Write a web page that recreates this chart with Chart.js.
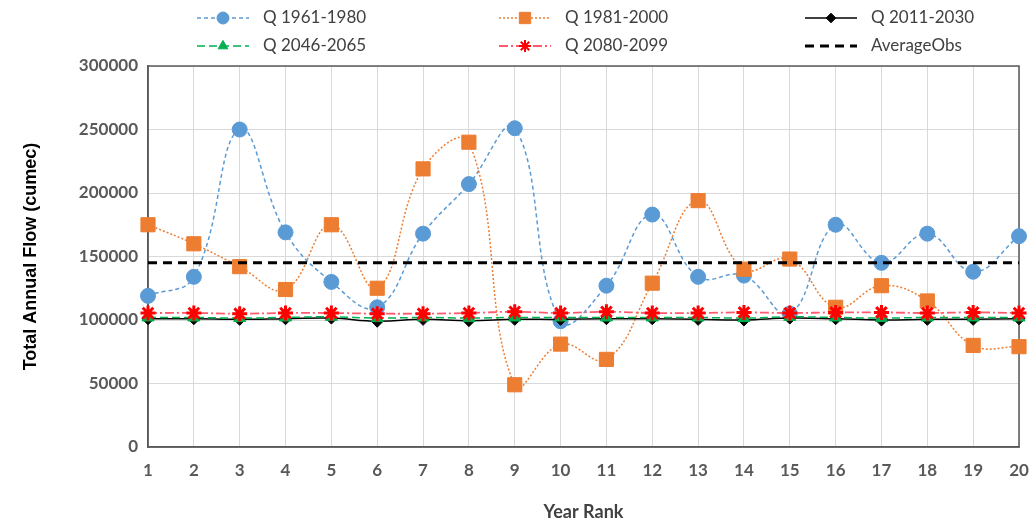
<!DOCTYPE html>
<html>
<head>
<meta charset="utf-8">
<script src="https://cdn.jsdelivr.net/npm/chart.js@4.4.0/dist/chart.umd.min.js"></script>
<style>
  html, body { margin: 0; padding: 0; background: #fff; }
  #wrap { width: 1030px; height: 523px; position: relative; }
</style>
</head>
<body>
<div id="wrap"><canvas id="flowChart"></canvas></div>
<script>
// Data
const yearRank = ['1','2','3','4','5','6','7','8','9','10','11','12','13','14','15','16','17','18','19','20'];
const q1961 = [119000, 134000, 250000, 169000, 130000, 110000, 168000, 207000, 251000, 99000,
               127000, 183000, 134000, 135000, 105000, 175000, 145000, 168000, 138000, 166000];
const q1981 = [175000, 160000, 142000, 124000, 175000, 125000, 219000, 240000, 49000, 81000,
               69000, 129000, 194000, 140000, 148000, 110000, 127000, 115000, 80000, 79000];
const q2011 = [101000, 101000, 100500, 101000, 101500, 99000, 100500, 99500, 100500, 100500,
               101000, 101000, 100500, 100000, 101500, 101000, 100000, 100500, 100500, 101000];
const q2046 = [102000, 102000, 101500, 102000, 102500, 101500, 102000, 101500, 102000, 102000,
               102000, 102000, 102000, 101500, 102500, 102000, 101500, 102000, 102000, 102000];
const q2080 = [105500, 105500, 105000, 105500, 105500, 105000, 105000, 105500, 106500, 105500,
               106500, 105500, 105500, 106000, 105500, 106000, 106000, 105500, 106000, 105500];
const avgObs = yearRank.map(() => 145000);
const yTicks = [0, 50000, 100000, 150000, 200000, 250000, 300000];

const tickFont = { family: 'Lato, "Open Sans", sans-serif', size: 17, weight: 'bold' };

const series = [
  { label: 'Q 1961-1980', data: q1961, color: '#5b9bd5', dash: [4, 3], width: 1.5, point: 'circle', radius: 7.5, order: 6 },
  { label: 'Q 1981-2000', data: q1981, color: '#ed7d31', dash: [2, 2], width: 1.5, point: 'rect', radius: 10, order: 5 },
  { label: 'Q 2011-2030', data: q2011, color: '#000000', dash: [], width: 1.5, point: 'rectRot', radius: 6, order: 4 },
  { label: 'Q 2046-2065', data: q2046, color: '#00b050', dash: [8, 4], width: 1.5, point: 'triangle', radius: 7, order: 3 },
  { label: 'Q 2080-2099', data: q2080, color: '#ff0000', lineColor: '#ff5a6e', dash: [9, 3, 2, 3], width: 1.8, point: 'star', radius: 7.5, order: 2 },
  { label: 'AverageObs', data: avgObs, color: '#000000', dash: [9, 6], width: 3, point: false, radius: 0, order: 1 }
];

// Legend laid out like the Excel one: 3 columns, 2 rows
const legendCols = [197, 499, 805];
const legendRows = [18, 46];

const legendPlugin = {
  id: 'excelLegend',
  afterDraw(chart) {
    const ctx = chart.ctx;
    series.forEach((s, i) => {
      const x0 = legendCols[i % 3];
      const y = legendRows[Math.floor(i / 3)];
      ctx.save();
      ctx.strokeStyle = s.lineColor || s.color;
      ctx.lineWidth = s.width;
      ctx.setLineDash(s.dash);
      ctx.beginPath();
      ctx.moveTo(x0, y);
      ctx.lineTo(x0 + 52, y);
      ctx.stroke();
      ctx.setLineDash([]);
      if (s.point) {
        ctx.fillStyle = s.color;
        ctx.strokeStyle = s.color;
        ctx.lineWidth = s.point === 'star' ? 2 : 1;
        Chart.helpers.drawPoint(ctx, { pointStyle: s.point, radius: s.radius * 0.8, borderWidth: ctx.lineWidth }, x0 + 26, y);
      }
      ctx.fillStyle = '#404040';
      ctx.font = '17px Lato, "Open Sans", sans-serif';
      ctx.textBaseline = 'middle';
      ctx.fillText(s.label, x0 + 66, y);
      ctx.restore();
    });
  }
};

const boxPlugin = {
  id: 'plotBox',
  beforeDatasetsDraw(chart) {
    const a = chart.chartArea;
    const ctx = chart.ctx;
    ctx.save();
    ctx.strokeStyle = '#595959';
    ctx.lineWidth = 1.5;
    ctx.strokeRect(a.left, a.top, a.right - a.left, a.bottom - a.top);
    ctx.restore();
  }
};

new Chart(document.getElementById('flowChart'), {
  type: 'line',
  data: {
    labels: yearRank,
    datasets: series.map(s => ({
      label: s.label,
      data: s.data,
      order: s.order,
      borderColor: s.lineColor || s.color,
      borderWidth: s.width,
      borderDash: s.dash,
      tension: s.point === false ? 0 : 0.42,
      fill: false,
      pointStyle: s.point,
      pointRadius: s.radius,
      pointBackgroundColor: s.color,
      pointBorderColor: s.color,
      pointBorderWidth: s.point === 'star' ? 3 : 1
    }))
  },
  options: {
    responsive: true,
    maintainAspectRatio: false,
    animation: false,
    layout: { padding: { top: 66, right: 9, left: 0, bottom: 0 } },
    plugins: {
      legend: { display: false },
      tooltip: { enabled: false }
    },
    scales: {
      x: {
        offset: false,
        grid: { color: '#d9d9d9', drawTicks: false },
        border: { color: '#595959', width: 1.5 },
        ticks: { color: '#595959', font: tickFont, padding: 13, maxRotation: 0, autoSkip: false },
        title: {
          display: true, text: 'Year Rank', color: '#404040',
          font: { family: 'Lato, "Open Sans", sans-serif', size: 18, weight: 'bold' },
          padding: { top: 0, bottom: 0 }
        },
        afterFit(scale) {
          scale.height = 76;
          // let the last label run off the edge, as in the original
          scale.paddingRight = 0;
          scale.paddingLeft = 0;
        }
      },
      y: {
        min: 0,
        max: 300000,
        afterBuildTicks(scale) { scale.ticks = yTicks.map(v => ({ value: v })); },
        grid: { color: '#d9d9d9', drawTicks: false },
        border: { color: '#595959', width: 1.5 },
        ticks: { color: '#595959', font: tickFont, padding: 10, callback: v => String(v) },
        title: {
          display: true, text: 'Total Annual Flow (cumec)', color: '#000000',
          font: { family: '"Liberation Sans", Arial, sans-serif', size: 18, weight: 'bold' },
          padding: { top: 20, bottom: 0 }
        },
        afterFit(scale) { scale.width = 148; }
      }
    }
  },
  plugins: [legendPlugin, boxPlugin]
});
</script>
</body>
</html>
